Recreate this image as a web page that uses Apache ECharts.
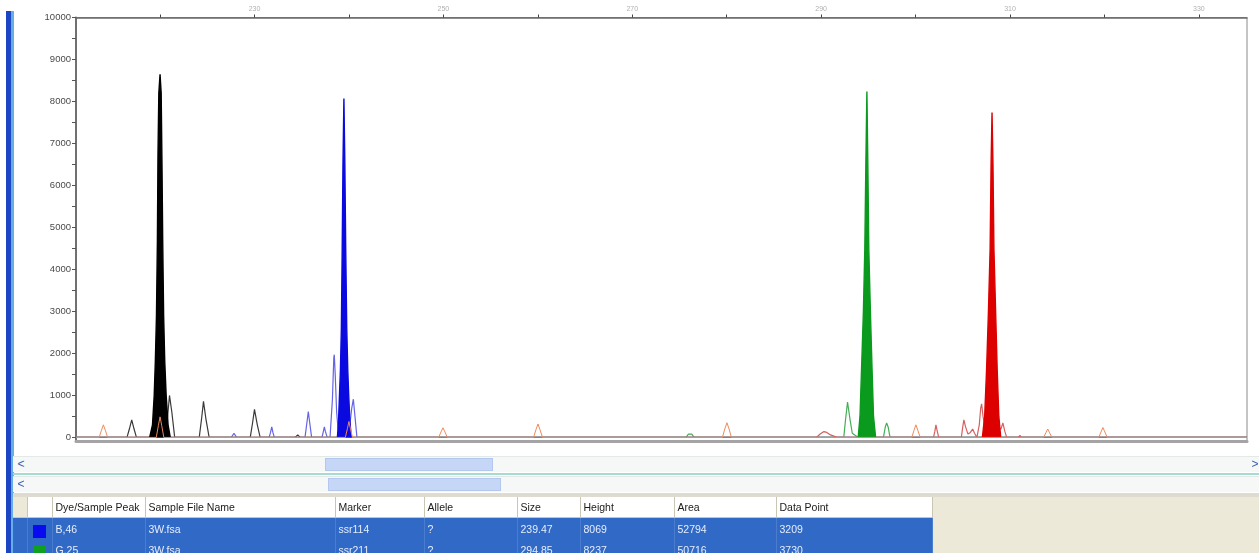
<!DOCTYPE html>
<html>
<head>
<meta charset="utf-8">
<script src="https://cdn.jsdelivr.net/npm/echarts@6/dist/echarts.min.js"></script>
<style>
    body { margin: 0; background: #fff; font-family: 'Liberation Sans', Arial, sans-serif; }
    #chart { position: absolute; left: 0; top: 0; width: 1259px; height: 553px; }
    #strip { position: absolute; left: 6px; top: 11px; width: 5px; height: 542px; background: #1b45c2; border-right: 3px solid #66aee9; }
    .sb { position: absolute; left: 13px; width: 1246px; height: 15px; background: #f5f8f7; border-top: 1px solid #e3e9e7; }
    .sb .btn { position: absolute; top: 0; width: 16px; height: 15px; color: #3a5fb0; font-size: 12px; line-height: 15px; text-align: center; }
    .sb .thumb { position: absolute; top: 1px; height: 13px; background: #c6d6f6; border: 1px solid #b4c7ef; box-sizing: border-box; }
    #sep { position: absolute; left: 13px; top: 473px; width: 1246px; height: 2px; background: #a6dccf; }
    #band { position: absolute; left: 13px; top: 493px; width: 1246px; height: 4px; background: #dedbd0; }
    #beige { position: absolute; left: 932px; top: 497px; width: 327px; height: 56px; background: #ece9d8; }
    #peaks { position: absolute; left: 13px; top: 497px; border-collapse: collapse; table-layout: fixed; font-size: 10.5px; }
    #peaks td { padding: 0 0 0 3px; white-space: nowrap; overflow: hidden; }
    #peaks tr.head td { height: 20px; background: #fff; color: #1a1a1a; border-right: 1px solid #c9c6b6; border-bottom: 1px solid #c9c6b6; }
    #peaks tr.head td.rh { background: #ece9d8; }
    #peaks tr.row td { height: 21px; background: #3169c6; color: #e6edfa; border-right: 1px solid #4a7ccf; }
    .sw { display: inline-block; width: 13px; height: 13px; margin: 5px 0 0 5px; vertical-align: top; }
</style>
</head>
<body>
<div id="chart"></div>
<div id="strip"></div>
<div class="sb" style="top:456px;"><span class="btn" style="left:0;">&lt;</span><div class="thumb" style="left:312px;width:168px;"></div><span class="btn" style="left:1234px;">&gt;</span></div>
<div id="sep"></div>
<div class="sb" style="top:476px;"><span class="btn" style="left:0;">&lt;</span><div class="thumb" style="left:315px;width:173px;"></div></div>
<div id="band"></div>
<div id="beige"></div>
<table id="peaks"></table>
<script>
    // axis ticks
    var sizeTicks = [220, 230, 240, 250, 260, 270, 280, 290, 300, 310, 320, 330];
    var sizeLabels = [230, 250, 270, 290, 310, 330];
    var heightTicks = [0, 500, 1000, 1500, 2000, 2500, 3000, 3500, 4000, 4500, 5000, 5500, 6000, 6500, 7000, 7500, 8000, 8500, 9000, 9500, 10000];
    var heightLabels = [0, 1000, 2000, 3000, 4000, 5000, 6000, 7000, 8000, 9000, 10000];

    // main peaks [size, height]
    var blackMain = [[218.9, 0], [219.2, 300], [219.38, 1000], [219.5, 1800], [219.62, 2900], [219.72, 4700], [219.78, 6700], [219.87, 8200], [220.0, 8650], [220.12, 8200], [220.21, 6400], [220.28, 4700], [220.38, 2900], [220.5, 1800], [220.65, 1000], [220.85, 300], [221.08, 0]];
    var blueMain = [[238.78, 0], [238.9, 400], [239.0, 1000], [239.1, 1600], [239.2, 2600], [239.29, 4500], [239.37, 6500], [239.47, 8069], [239.57, 6500], [239.66, 4500], [239.77, 2600], [239.88, 1600], [239.98, 1000], [240.1, 400], [240.25, 0]];
    var greenMain = [[293.93, 0], [294.12, 500], [294.28, 1600], [294.48, 3000], [294.63, 4500], [294.74, 6500], [294.85, 8237], [294.95, 6500], [295.05, 4500], [295.22, 3000], [295.4, 1600], [295.55, 500], [295.77, 0]];
    var redMain = [[307.08, 0], [307.32, 500], [307.52, 1600], [307.72, 3000], [307.9, 4500], [308.0, 6500], [308.1, 7740], [308.2, 6500], [308.3, 4500], [308.48, 3000], [308.65, 1600], [308.82, 500], [309.02, 0]];

    // small peaks per dye
    var blackTrace = [[211.1, 0], [216.5, 0], [216.75, 200], [217.0, 420], [217.25, 200], [217.5, 0],
        [220.6, 0], [220.8, 500], [221.0, 1000], [221.09, 1030], [221.25, 600], [221.55, 0],
        [224.15, 0], [224.4, 450], [224.6, 860], [224.69, 880], [224.85, 450], [225.2, 0],
        [229.55, 0], [229.8, 350], [230.0, 670], [230.06, 680], [230.3, 300], [230.6, 0],
        [234.3, 0], [234.58, 60], [234.85, 0], [335.1, 0]];
    var blueTrace = [[211.1, 0], [227.55, 0], [227.83, 100], [228.1, 0],
        [231.55, 0], [231.7, 120], [231.83, 250], [231.95, 120], [232.1, 0],
        [235.35, 0], [235.55, 350], [235.7, 615], [235.85, 350], [236.05, 0],
        [237.15, 0], [237.3, 150], [237.4, 250], [237.5, 150], [237.7, 0],
        [238.0, 0], [238.25, 900], [238.4, 1900], [238.45, 1970], [238.55, 1500], [238.7, 600], [238.85, 200],
        [240.1, 300], [240.3, 700], [240.47, 910], [240.6, 600], [240.85, 0],
        [242.5, 0], [242.66, 40], [242.8, 0], [335.1, 0]];
    var greenTrace = [[211.1, 0], [275.7, 0], [275.95, 80], [276.11, 110], [276.3, 80], [276.55, 0],
        [292.4, 0], [292.6, 450], [292.8, 840], [292.87, 850], [293.05, 450], [293.3, 100], [293.6, 50], [293.95, 0],
        [296.6, 0], [296.8, 250], [296.94, 345], [297.1, 250], [297.3, 0], [335.1, 0]];
    var redTrace = [[211.1, 0], [289.5, 0], [289.9, 80], [290.3, 140], [290.6, 120], [291.0, 60], [291.7, 0],
        [301.9, 0], [302.05, 150], [302.16, 300], [302.3, 150], [302.45, 0],
        [304.85, 0], [305.0, 250], [305.12, 420], [305.3, 250], [305.55, 80], [305.8, 120], [306.05, 200], [306.25, 100], [306.5, 0],
        [306.75, 300], [306.9, 700], [307.0, 800], [307.15, 500], [307.3, 300],
        [309.05, 200], [309.25, 345], [309.45, 150], [309.65, 0],
        [310.9, 0], [311.05, 50], [311.2, 0], [335.1, 0]];
    // size standard (orange)
    var orangeTrace = [[211.1, 0], [213.55, 0], [213.78, 160], [214.0, 300], [214.22, 160], [214.45, 0],
        [219.6, 0], [219.82, 280], [220.0, 490], [220.18, 280], [220.4, 0],
        [239.62, 0], [239.85, 220], [240.0, 380], [240.15, 220], [240.38, 0],
        [249.5, 0], [249.75, 130], [249.96, 230], [250.17, 130], [250.42, 0],
        [259.55, 0], [259.8, 180], [260.02, 320], [260.24, 180], [260.5, 0],
        [279.55, 0], [279.8, 200], [280.03, 350], [280.26, 200], [280.5, 0],
        [299.6, 0], [299.84, 170], [300.04, 300], [300.24, 170], [300.5, 0],
        [313.55, 0], [313.8, 110], [314.0, 200], [314.2, 110], [314.45, 0],
        [319.4, 0], [319.64, 130], [319.84, 235], [320.05, 130], [320.3, 0], [335.1, 0]];

    // peak table
    var tableHead = ['', '', 'Dye/Sample Peak', 'Sample File Name', 'Marker', 'Allele', 'Size', 'Height', 'Area', 'Data Point'];
    var colWidths = [14, 25, 93, 190, 89, 93, 63, 94, 102, 156];
    var dyeColors = ['#0a0af0', '#10a020'];
    var peakRows = [
        ['B,46', '3W.fsa', 'ssr114', '?', '239.47', '8069', '52794', '3209'],
        ['G,25', '3W.fsa', 'ssr211', '?', '294.85', '8237', '50716', '3730']
    ];

    var html = '<colgroup>';
    colWidths.forEach(function(w) { html += '<col style="width:' + w + 'px">'; });
    html += '</colgroup><tr class="head">';
    tableHead.forEach(function(h, k) { html += '<td' + (k === 0 ? ' class="rh"' : '') + '>' + h + '</td>'; });
    html += '</tr>';
    peakRows.forEach(function(r, i) {
        html += '<tr class="row"><td></td><td style="padding:0"><span class="sw" style="background:' + dyeColors[i] + '"></span></td>';
        r.forEach(function(v) { html += '<td>' + v + '</td>'; });
        html += '</tr>';
    });
    document.getElementById('peaks').innerHTML = html;

    function trace(name, data, color, width, z) {
        return {
            name: name, type: 'line', data: data, symbol: 'none', z: z, silent: true,
            lineStyle: { color: color, width: width }, itemStyle: { color: color }
        };
    }
    function fill(name, data, color, z) {
        var s = trace(name, data, color, 1.4, z);
        s.areaStyle = { color: color, opacity: 1 };
        return s;
    }

    var chart = echarts.init(document.getElementById('chart'));
    chart.setOption({
        animation: false,
        grid: { left: 76, right: 12, top: 17.5, bottom: 112, show: true, borderColor: '#8a8a8a', borderWidth: 1, backgroundColor: '#fff' },
        xAxis: [{
            type: 'value', position: 'top', min: 211.1, max: 335.1,
            axisLine: { onZero: false, lineStyle: { color: '#6a6a6a', width: 1.5 } },
            axisTick: { customValues: sizeTicks, length: 3, lineStyle: { color: '#444' } },
            axisLabel: { customValues: sizeLabels, fontSize: 7, color: '#b0b0b0', margin: 5 },
            splitLine: { show: false }
        }, {
            type: 'value', position: 'bottom', min: 211.1, max: 335.1,
            axisLine: { onZero: false, lineStyle: { color: '#a4a4a4', width: 3 } },
            axisTick: { show: false }, axisLabel: { show: false }, splitLine: { show: false }
        }],
        yAxis: [{
            type: 'value', min: -85, max: 10000,
            axisLine: { show: true, onZero: false, lineStyle: { color: '#707070', width: 2 } },
            axisTick: { show: true, customValues: heightTicks, length: 4, lineStyle: { color: '#555' } },
            axisLabel: {
                customValues: heightLabels, fontSize: 9.5, color: '#4a4a4a', margin: 5, fontFamily: 'Liberation Sans',
                formatter: function(v) { return String(v); }
            },
            splitLine: { show: false }
        }],
        series: [
            trace('black', blackTrace, '#3a3a3a', 1.2, 2),
            trace('blue', blueTrace, '#6464e6', 1.2, 2),
            trace('green', greenTrace, '#45ad58', 1.2, 2),
            trace('red', redTrace, '#d46060', 1.2, 2),
            fill('blackMain', blackMain, '#000000', 3),
            fill('blueMain', blueMain, '#0a0ae0', 3),
            fill('greenMain', greenMain, '#0a9a1e', 3),
            fill('redMain', redMain, '#dc0000', 3),
            trace('orange', orangeTrace, '#ee8a5c', 1, 4)
        ]
    });
</script>
</body>
</html>
